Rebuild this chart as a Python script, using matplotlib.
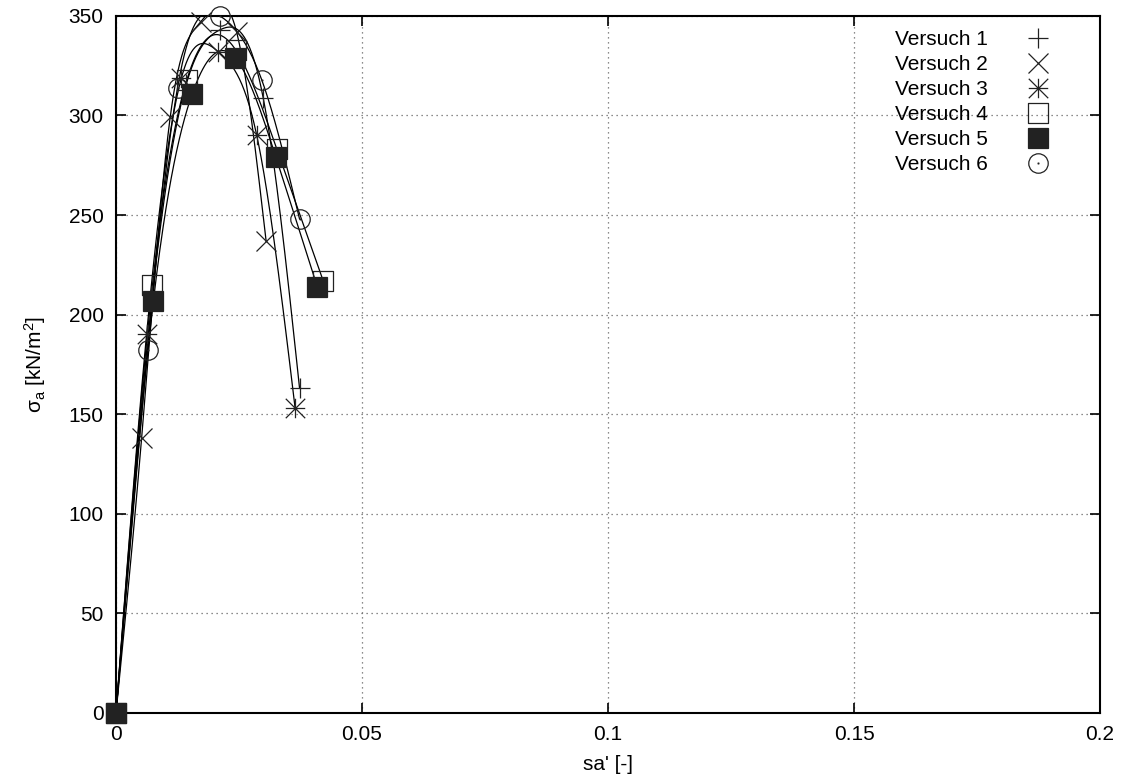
import numpy as np
import matplotlib
matplotlib.use("Agg")
import matplotlib.pyplot as plt
from matplotlib.path import Path
from matplotlib.lines import Line2D

plt.rcParams['font.family'] = ['Liberation Sans', 'DejaVu Sans']
plt.rcParams['mathtext.default'] = 'regular'
plt.rcParams['font.size'] = 15

# Messwerte: Setzung sa' und Spannung sigma_a je Versuch
sa_1 = [0.0, 0.0074, 0.0143, 0.0211, 0.0299, 0.0373]
sig_1 = [0.0, 210.0, 316.0, 343.0, 309.0, 163.0]
sa_2 = [0.0, 0.0052, 0.0110, 0.0172, 0.0245, 0.0305]
sig_2 = [0.0, 138.0, 299.0, 347.0, 342.0, 237.0]
sa_3 = [0.0, 0.0062, 0.0133, 0.0208, 0.0286, 0.0364]
sig_3 = [0.0, 190.0, 319.0, 332.0, 290.0, 153.0]
sa_4 = [0.0, 0.0074, 0.0144, 0.0243, 0.0327, 0.0421]
sig_4 = [0.0, 215.0, 318.0, 333.0, 283.0, 217.0]
sa_5 = [0.0, 0.0076, 0.0155, 0.0242, 0.0325, 0.0409]
sig_5 = [0.0, 207.0, 311.0, 329.0, 279.0, 214.0]
sa_6 = [0.0, 0.0064, 0.0125, 0.0211, 0.0296, 0.0373]
sig_6 = [0.0, 182.0, 314.0, 350.0, 318.0, 248.0]

labels = ['Versuch 1', 'Versuch 2', 'Versuch 3', 'Versuch 4', 'Versuch 5', 'Versuch 6']
x_ticks = [0, 0.05, 0.1, 0.15, 0.2]
x_ticklabels = ['0', '0.05', '0.1', '0.15', '0.2']
y_ticks = [0, 50, 100, 150, 200, 250, 300, 350]


def csplines(x, y, n=300):
    # natuerlicher kubischer Spline (wie gnuplot "smooth csplines")
    x = np.asarray(x, float)
    y = np.asarray(y, float)
    k = len(x)
    h = np.diff(x)
    A = np.zeros((k, k))
    b = np.zeros(k)
    A[0, 0] = A[-1, -1] = 1.0
    for i in range(1, k - 1):
        A[i, i - 1] = h[i - 1]
        A[i, i] = 2 * (h[i - 1] + h[i])
        A[i, i + 1] = h[i]
        b[i] = 6 * ((y[i + 1] - y[i]) / h[i] - (y[i] - y[i - 1]) / h[i - 1])
    M = np.linalg.solve(A, b)
    xs = np.linspace(x[0], x[-1], n)
    idx = np.clip(np.searchsorted(x, xs) - 1, 0, k - 2)
    x0, x1 = x[idx], x[idx + 1]
    hh = x1 - x0
    t0, t1 = x1 - xs, xs - x0
    ys = (M[idx] * t0**3 + M[idx + 1] * t1**3) / (6 * hh) \
        + (y[idx] / hh - M[idx] * hh / 6) * t0 \
        + (y[idx + 1] / hh - M[idx + 1] * hh / 6) * t1
    return xs, ys


# Punktsymbole im gnuplot-Stil
def with_dot(outline):
    d = 0.04
    dot = Path([(-d, -d), (d, -d), (d, d), (-d, d), (-d, -d)],
               [Path.MOVETO, Path.LINETO, Path.LINETO, Path.LINETO, Path.CLOSEPOLY])
    return Path.make_compound_path(outline, dot)


square = Path([(-1, -1), (1, -1), (1, 1), (-1, 1), (-1, -1)],
              [Path.MOVETO, Path.LINETO, Path.LINETO, Path.LINETO, Path.CLOSEPOLY])
star = Path([(-1, 0), (1, 0), (0, -1), (0, 1), (-1, -1), (1, 1), (-1, 1), (1, -1)],
            [Path.MOVETO, Path.LINETO] * 4)
circle = Path.unit_circle()

styles = [
    dict(marker='+', ms=14, fillstyle='none'),
    dict(marker='x', ms=14, fillstyle='none'),
    dict(marker=star, ms=14, fillstyle='none'),
    dict(marker=with_dot(square), ms=14, fillstyle='none'),
    dict(marker='s', ms=14, mfc='#222222'),
    dict(marker=with_dot(circle), ms=14, fillstyle='none'),
]

series = [(sa_1, sig_1), (sa_2, sig_2), (sa_3, sig_3),
          (sa_4, sig_4), (sa_5, sig_5), (sa_6, sig_6)]

fig = plt.figure(figsize=(11.31, 7.82), dpi=100)
ax = fig.add_axes([0.1026, 0.0886, 0.87, 0.891])

for (sx, sy), st in zip(series, styles):
    xs, ys = csplines(sx, sy)
    ax.plot(xs, ys, color='black', lw=0.9, zorder=2)

handles = []
for (sx, sy), st, lab in zip(series, styles, labels):
    ax.plot(sx, sy, linestyle='none', mec='#222222', mew=0.9,
            clip_on=False, zorder=3, **st)
    handles.append(Line2D([], [], linestyle='none', mec='#222222', mew=0.9, **st))

ax.set_xlim(0, 0.2)
ax.set_ylim(0, 350)
ax.set_xticks(x_ticks)
ax.set_xticklabels(x_ticklabels)
ax.set_yticks(y_ticks)
ax.tick_params(direction='in', length=7, width=1.2, pad=9,
               top=True, right=True, labelsize=15)
ax.grid(True, color='#666666', linestyle=(0, (1, 3)), lw=0.9)
for s in ax.spines.values():
    s.set_linewidth(1.5)

ax.set_xlabel("sa' [-]", fontsize=15, labelpad=8)
ax.set_ylabel('σ$_a$ [kN/m$^2$]', fontsize=15, labelpad=15)

leg = ax.legend(handles, labels, loc='upper right', bbox_to_anchor=(0.9646, 1.0036),
                frameon=False, markerfirst=False, fontsize=15,
                handlelength=1.0, handletextpad=1.9, labelspacing=0.29,
                borderpad=0.3)

fig.savefig('out.png', dpi=100)
